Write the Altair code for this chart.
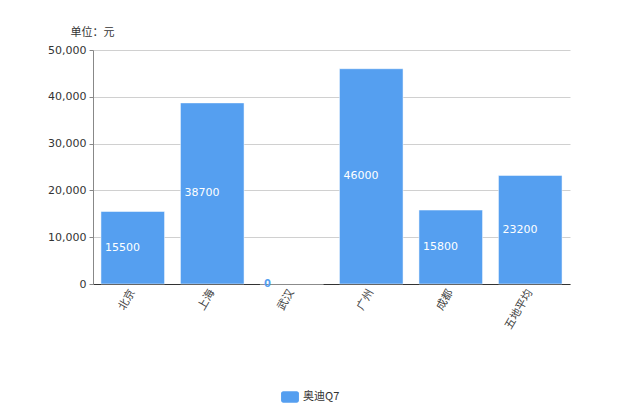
import altair as alt
import pandas as pd

cities = ["北京", "上海", "武汉", "广州", "成都", "五地平均"]
prices = [15500, 38700, 0, 46000, 15800, 23200]
series = ["奥迪Q7"] * len(cities)

df = pd.DataFrame({"city": cities, "price": prices, "series": series})
df["half"] = df["price"] / 2
df["label"] = df["price"].astype(str)

BLUE = "#559ff0"

x = alt.X("city:N", sort=cities, title=None,
          scale=alt.Scale(paddingInner=0.2, paddingOuter=0.1),
          axis=alt.Axis(labelAngle=-60, labelAlign="right", labelBaseline="middle",
                        labelFont="Noto Sans CJK SC", labelFontSize=11, labelColor="#444",
                        ticks=False, domainColor="#333", labelPadding=6))

bars = alt.Chart(df).mark_bar(stroke="white", strokeWidth=0.5).encode(
    x=x,
    y=alt.Y("price:Q", scale=alt.Scale(domain=[0, 50000]),
            axis=alt.Axis(values=[0, 10000, 20000, 30000, 40000, 50000], format=",.0f",
                          title="单位：元", titleAngle=0, titleAlign="center",
                          titleX=-1, titleY=-13, titleFont="Noto Sans CJK SC",
                          titleFontSize=11, titleFontWeight="normal", titleColor="#333",
                          labelFont="DejaVu Sans", labelFontSize=11, labelColor="#333",
                          domainColor="#888", tickColor="#888", tickSize=4,
                          gridColor="#d0d0d0", labelPadding=3)),
    color=alt.Color("series:N", scale=alt.Scale(range=[BLUE]),
                    legend=alt.Legend(title=None, orient="none", legendX=188, legendY=338,
                                      symbolType="M-1,-0.4 A0.25,0.25 0 0 1 -0.75,-0.65 H0.75 A0.25,0.25 0 0 1 1,-0.4 V0.4 A0.25,0.25 0 0 1 0.75,0.65 H-0.75 A0.25,0.25 0 0 1 -1,0.4 Z",
                                      symbolSize=320, symbolOpacity=1, symbolStrokeWidth=0,
                                      labelFont="Noto Sans CJK SC", labelFontSize=11,
                                      labelColor="#333")),
)

labels = alt.Chart(df).transform_filter("datum.price > 0").mark_text(
    align="left", baseline="middle", dx=4, color="white", font="DejaVu Sans", fontSize=11
).encode(
    x=alt.X("city:N", sort=cities, bandPosition=0),
    y="half:Q",
    text="label:N",
)

zero = alt.Chart(df).transform_filter("datum.price == 0").mark_text(
    align="left", baseline="middle", dx=4, color=BLUE, fontWeight="bold",
    font="DejaVu Sans", fontSize=10
).encode(
    x=alt.X("city:N", sort=cities, bandPosition=0),
    y="half:Q",
    text="label:N",
)

chart = alt.layer(bars, labels, zero).properties(
    width=477, height=234,
    background="white",
    autosize=alt.AutoSizeParams(type="none"),
    padding={"left": 85, "top": 42, "right": 40, "bottom": 122},
).configure_view(stroke=None)

chart.save("out.html", embed_options={"renderer": "svg", "actions": False})
